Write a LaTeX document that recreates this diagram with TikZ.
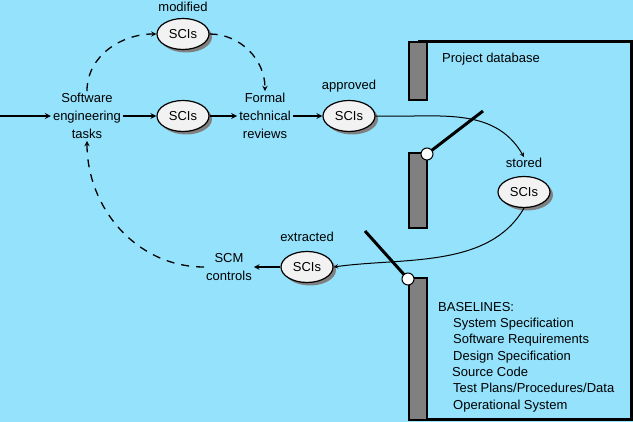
\documentclass[tikz,border=0pt]{standalone}
\usepackage{fontspec}
\setmainfont{Liberation Sans}
\usepackage{tikz}
\usetikzlibrary{shapes,arrows,shadows,positioning,calc}
\definecolor{bgblue}{RGB}{148,226,252}
\definecolor{scifill}{RGB}{242,242,242}
\definecolor{bargray}{RGB}{128,128,128}
\tikzset{
  sci/.style={ellipse,draw,line width=1.2pt,fill=scifill,minimum width=52pt,
    minimum height=31pt,inner sep=0pt,font=\fontsize{13}{16}\selectfont,
    drop shadow={shadow xshift=3pt,shadow yshift=-3pt,fill=black!50,opacity=1}},
  task/.style={align=center,inner sep=2pt,font=\fontsize{13}{18}\selectfont},
  tag/.style={inner sep=1pt,font=\fontsize{13}{16}\selectfont},
  flow/.style={->,line width=1.6pt},
  loop/.style={->,line width=1.3pt,dash pattern=on 8pt off 7pt},
  gate/.style={line width=3pt},
  hinge/.style={circle,draw,line width=1pt,fill=white,inner sep=0pt,minimum size=12pt},
}

\begin{document}
\begin{tikzpicture}[x=1pt,y=1pt,>=stealth]
\fill[bgblue] (0,0) rectangle (633,-422);
\useasboundingbox (0,0) rectangle (633,-422);
\draw[line width=3pt] (418,-42) -- (631,-42) -- (631,-420) -- (418,-420);
\filldraw[fill=bargray,line width=2.5pt] (409,-42) rectangle (427,-100);
\filldraw[fill=bargray,line width=2.5pt] (409,-153) rectangle (427,-228);
\filldraw[fill=bargray,line width=2.5pt] (409,-278) rectangle (427,-420);
\node[tag,anchor=west] (pdb) at (441,-59) {Project database};
\node[anchor=north west,inner sep=0pt,align=left,font=\fontsize{13}{16.3}\selectfont]
  (base) at (438,-302) {BASELINES:\\
  \hspace*{15pt}System Specification\\
  \hspace*{15pt}Software Requirements\\
  \hspace*{15pt}Design Specification\\
  \hspace*{14pt}Source Code\\
  \hspace*{15pt}Test Plans/Procedures/Data\\
  \hspace*{15pt}Operational System};

\coordinate (entry) at (0,-116);
\node[task] (set) at (87,-116) {Software\\engineering\\tasks};
\node[task] (ftr) at (265,-116) {Formal\\technical\\reviews};
\node[task] (scm) at (229,-267) {SCM\\controls};
\node[sci] (modsci) at (183,-34) {SCIs};
\node[tag] (modlbl) at (183,-7) {modified};
\node[sci] (revsci) at (183,-116) {SCIs};
\node[sci] (appsci) at (349,-116) {SCIs};
\node[tag] (applbl) at (349,-86) {approved};
\node[sci] (stosci) at (524,-192) {SCIs};
\node[tag] (stolbl) at (524,-163) {stored};
\node[sci] (extsci) at (307,-267) {SCIs};
\node[tag] (extlbl) at (307,-237) {extracted};

\draw[flow] (entry) -- (set);
\draw[flow] (set) -- (revsci);
\draw[flow] (revsci) -- (ftr);
\draw[flow] (ftr) -- (appsci);
\draw[->,line width=1pt] (appsci.east) to[out=-2,in=120] (stolbl.north);
\draw[->,line width=1pt] (stosci.south) to[out=-120,in=8,looseness=0.9] (extsci.east);
\draw[->,line width=1.4pt] (extsci) -- (scm);
\draw[loop] (set.north) to[out=90,in=180] (modsci.west);
\draw[loop] (modsci.east) to[out=0,in=90] (ftr.north);
\draw[loop] (scm.west) to[out=180,in=-90] (set.south);

\coordinate (pivA) at (427,-154);
\coordinate (leverA) at (483,-111);
\draw[gate] (leverA) -- (pivA);
\node[hinge] (hingeA) at (pivA) {};
\coordinate (pivB) at (408,-279);
\coordinate (leverB) at (365,-231);
\draw[gate] (leverB) -- (pivB);
\node[hinge] (hingeB) at (pivB) {};
\end{tikzpicture}
\end{document}
